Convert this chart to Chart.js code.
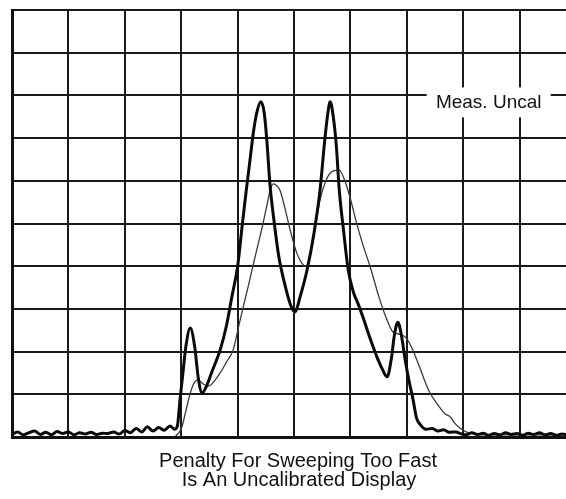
<!DOCTYPE html>
<html>
<head>
<meta charset="utf-8">
<title>Penalty For Sweeping Too Fast</title>
<script src="https://cdn.jsdelivr.net/npm/chart.js@4.4.1/dist/chart.umd.min.js"></script>
<style>
  html, body { margin: 0; padding: 0; background: #fff; }
  #wrap { width: 566px; height: 499px; }
</style>
</head>
<body>
<div id="wrap"><canvas id="sweepChart" width="566" height="499"></canvas></div>
<script>
// --- Data (x and y in graticule divisions) ---
const captionLines = ['Penalty For Sweeping Too Fast', 'Is An Uncalibrated Display'];
const annotationText = 'Meas. Uncal';

// Calibrated sweep (heavy trace)
const thickX = [
  0.0, 0.1, 0.2, 0.3, 0.4, 0.5, 0.6, 0.7, 0.8, 0.9,
  1.0, 1.1, 1.2, 1.3, 1.4, 1.5, 1.6, 1.7, 1.8, 1.9,
  2.0, 2.1, 2.2, 2.3, 2.4, 2.5, 2.6, 2.7, 2.8, 2.88,
  2.93, 2.98, 3.03, 3.08, 3.16, 3.24, 3.3, 3.37, 3.45, 3.55,
  3.69, 3.8, 3.9, 4.0, 4.08, 4.15, 4.22, 4.28, 4.34, 4.41,
  4.47, 4.52, 4.57, 4.65, 4.73, 4.85, 4.95, 5.02, 5.1, 5.23,
  5.35, 5.46, 5.54, 5.6, 5.64, 5.7, 5.75, 5.8, 5.88, 5.96,
  6.05, 6.14, 6.22, 6.35, 6.47, 6.56, 6.65, 6.72, 6.78, 6.84,
  6.9, 6.97, 7.04, 7.11, 7.17, 7.23, 7.34, 7.45, 7.55, 7.65,
  7.75, 7.87, 7.95, 8.05, 8.15, 8.25, 8.35, 8.45, 8.55, 8.65,
  8.75, 8.85, 8.95, 9.05, 9.15, 9.25, 9.35, 9.45, 9.55, 9.65,
  9.75, 9.85
];
const thickY = [
  0.06, 0.12, 0.05, 0.10, 0.14, 0.06, 0.11, 0.05, 0.13, 0.08,
  0.12, 0.05, 0.10, 0.07, 0.11, 0.06, 0.09, 0.08, 0.12, 0.07,
  0.15, 0.10, 0.20, 0.12, 0.24, 0.14, 0.22, 0.16, 0.26, 0.18,
  0.25, 0.90, 1.50, 2.10, 2.55, 2.10, 1.40, 1.03, 1.20, 1.55,
  2.04, 2.60, 3.30, 4.00, 4.95, 5.75, 6.50, 7.15, 7.60, 7.85,
  7.60, 6.90, 5.95, 5.00, 4.22, 3.50, 3.05, 2.93, 3.25, 3.91,
  4.75, 5.78, 6.90, 7.60, 7.85, 7.45, 6.80, 5.80, 4.80, 3.91,
  3.40, 3.10, 2.81, 2.30, 1.87, 1.60, 1.41, 1.80, 2.40, 2.69,
  2.40, 1.80, 1.30, 0.87, 0.45, 0.30, 0.18, 0.20, 0.14, 0.17,
  0.11, 0.12, 0.08, 0.05, 0.10, 0.06, 0.09, 0.04, 0.08, 0.05,
  0.10, 0.06, 0.08, 0.04, 0.09, 0.06, 0.10, 0.05, 0.08, 0.04,
  0.07, 0.05
];

// Too-fast sweep (light trace)
const thinX = [
  2.9, 2.96, 3.01, 3.08, 3.16, 3.24, 3.3, 3.38, 3.48, 3.58,
  3.69, 3.8, 3.92, 4.03, 4.13, 4.2, 4.27, 4.36, 4.45, 4.53,
  4.58, 4.63, 4.68, 4.75, 4.84, 4.93, 5.05, 5.15, 5.21, 5.3,
  5.38, 5.46, 5.58, 5.68, 5.8, 5.9, 5.99, 6.1, 6.22, 6.35,
  6.5, 6.63, 6.76, 6.9, 7.0, 7.1, 7.23, 7.32, 7.41, 7.55,
  7.67, 7.77, 7.85, 7.94, 8.05, 8.2, 8.5, 9.85
];
const thinY = [
  0.03, 0.10, 0.23, 0.60, 1.03, 1.29, 1.33, 1.25, 1.19, 1.30,
  1.50, 1.75, 2.04, 2.66, 3.22, 3.60, 4.00, 4.50, 5.00, 5.50,
  5.80, 5.93, 5.90, 5.78, 5.35, 4.85, 4.30, 4.05, 4.00, 4.35,
  4.95, 5.55, 6.05, 6.22, 6.25, 6.00, 5.62, 5.05, 4.50, 3.98,
  3.30, 2.80, 2.45, 2.40, 2.30, 2.05, 1.62, 1.30, 1.03, 0.75,
  0.55, 0.47, 0.32, 0.21, 0.12, 0.07, 0.05, 0.05
];

const xMin = 0, xMax = 9.82, yMin = 0, yMax = 10;

(function() {
    document.addEventListener('DOMContentLoaded', function() {
        try {
            const ctx = document.getElementById('sweepChart');

            const toPoints = (xs, ys) => xs.map((x, i) => ({ x: x, y: ys[i] }));

            // white box with "Meas. Uncal" breaking the grid lines
            const labelPlugin = {
                id: 'measUncal',
                afterDraw(chart) {
                    const c = chart.ctx;
                    const xs = chart.scales.x, ys = chart.scales.y;
                    const cx = xs.getPixelForValue(8.45);
                    const cy = ys.getPixelForValue(8) + 7;
                    c.save();
                    c.fillStyle = '#fff';
                    c.fillRect(cx - 62, cy - 15, 124, 30);
                    c.fillStyle = '#111';
                    c.font = '19px "Liberation Sans", Arial, sans-serif';
                    c.textAlign = 'center';
                    c.textBaseline = 'middle';
                    c.fillText(annotationText, cx, cy);
                    c.restore();
                }
            };

            // caption under the graticule
            const captionPlugin = {
                id: 'caption',
                afterDraw(chart) {
                    const c = chart.ctx;
                    c.save();
                    c.fillStyle = '#111';
                    c.font = '20px "Liberation Sans", Arial, sans-serif';
                    c.textAlign = 'center';
                    c.textBaseline = 'alphabetic';
                    c.fillText(captionLines[0], 298, 467);
                    c.fillText(captionLines[1], 299, 486);
                    c.restore();
                }
            };

            const integerTicks = scale => {
                const t = [];
                for (let v = Math.ceil(scale.min); v <= Math.floor(scale.max); v++) t.push({ value: v });
                scale.ticks = t;
            };

            new Chart(ctx, {
                type: 'line',
                data: {
                    datasets: [{
                        label: 'Too fast',
                        data: toPoints(thinX, thinY),
                        borderColor: '#3a3a3a',
                        borderWidth: 1.3,
                        pointRadius: 0,
                        cubicInterpolationMode: 'monotone',
                        order: 2
                    }, {
                        label: 'Calibrated',
                        data: toPoints(thickX, thickY),
                        borderColor: '#0a0a0a',
                        borderWidth: 3,
                        pointRadius: 0,
                        cubicInterpolationMode: 'monotone',
                        order: 1
                    }]
                },
                options: {
                    responsive: false,
                    animation: false,
                    layout: { padding: { left: 12, top: 10, right: 0, bottom: 62 } },
                    plugins: {
                        legend: { display: false },
                        tooltip: { enabled: false }
                    },
                    scales: {
                        x: {
                            type: 'linear',
                            min: xMin,
                            max: xMax,
                            afterBuildTicks: integerTicks,
                            ticks: { display: false, padding: 0 },
                            grid: { color: '#1a1a1a', lineWidth: 2, drawTicks: false },
                            border: { display: true, color: '#111', width: 3 }
                        },
                        y: {
                            type: 'linear',
                            min: yMin,
                            max: yMax,
                            afterBuildTicks: integerTicks,
                            ticks: { display: false, padding: 0 },
                            grid: { color: '#1a1a1a', lineWidth: 2, drawTicks: false },
                            border: { display: true, color: '#111', width: 3 }
                        }
                    }
                },
                plugins: [labelPlugin, captionPlugin]
            });
        } catch (e) {
            console.error('Error drawing chart:', e);
        }
    });
})();
</script>
</body>
</html>
